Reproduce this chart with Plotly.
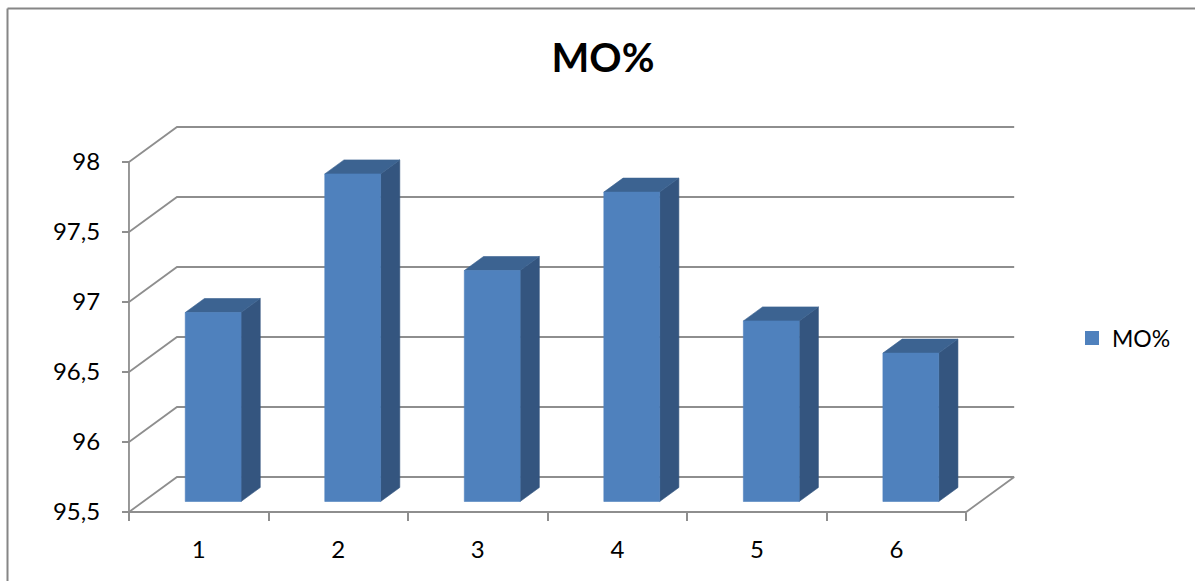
import plotly.graph_objects as go

# Data
categories = ["1", "2", "3", "4", "5", "6"]
mo_values = [96.85, 97.84, 97.15, 97.71, 96.79, 96.56]
y_ticks = [95.5, 96.0, 96.5, 97.0, 97.5, 98.0]
series_name = "MO%"

# Oblique 3D settings (in axis units)
BASE = y_ticks[0]
DEPTH_X = 0.344      # horizontal shift of the back wall, category units
DEPTH_Y = 0.25       # vertical shift of the back wall, value units
BAR_HALF = 0.2       # half width of a column, category units
T_FRONT, T_BACK = 0.3, 0.7   # column front/back position inside the depth

X_RANGE = [0.45, 6.9]
Y_RANGE = [95.45, 98.3]

FRONT = "#4F81BD"
SIDE = "#34557F"
TOP = "#3C6391"
GRID = "#8E8E8E"
FONT = "Lato"

W, H = 1195, 581
M = dict(l=122, r=173, t=120, b=62)

n = len(categories)
x_left, x_right = 0.5, n + 0.5

fig = go.Figure()

# Walls: back-wall gridlines plus left-wall diagonals
gx, gy = [], []
for g in y_ticks:
    gx += [x_left, x_left + DEPTH_X, x_right + DEPTH_X, None]
    gy += [g, g + DEPTH_Y, g + DEPTH_Y, None]
# floor front edge and right edge
gx += [x_left, x_right, x_right + DEPTH_X, None]
gy += [BASE, BASE, BASE + DEPTH_Y, None]
# front vertical axis
gx += [x_left, x_left, None]
gy += [BASE, y_ticks[-1], None]
fig.add_trace(go.Scatter(x=gx, y=gy, mode="lines",
                         line=dict(color=GRID, width=1.8),
                         hoverinfo="skip", showlegend=False))

# Columns: front, side and top faces
fx, fy, sx, sy, tx, ty = [], [], [], [], [], []
for i, v in enumerate(mo_values, start=1):
    xl = i - BAR_HALF + T_FRONT * DEPTH_X
    xr = i + BAR_HALF + T_FRONT * DEPTH_X
    b0 = BASE + T_FRONT * DEPTH_Y
    v0 = v + T_FRONT * DEPTH_Y
    ddx = (T_BACK - T_FRONT) * DEPTH_X
    ddy = (T_BACK - T_FRONT) * DEPTH_Y
    fx += [xl, xr, xr, xl, xl, None]
    fy += [b0, b0, v0, v0, b0, None]
    sx += [xr, xr + ddx, xr + ddx, xr, xr, None]
    sy += [b0, b0 + ddy, v0 + ddy, v0, b0, None]
    tx += [xl, xr, xr + ddx, xl + ddx, xl, None]
    ty += [v0, v0, v0 + ddy, v0 + ddy, v0, None]

for xs, ys, col in [(sx, sy, SIDE), (tx, ty, TOP), (fx, fy, FRONT)]:
    fig.add_trace(go.Scatter(x=xs, y=ys, mode="lines", fill="toself",
                             fillcolor=col, line=dict(color=col, width=0.6),
                             hoverinfo="skip", showlegend=False))

# Legend entry
fig.add_trace(go.Scatter(x=[None], y=[None], mode="markers", name=series_name,
                         marker=dict(symbol="square", size=14, color=FRONT),
                         showlegend=True))

pw = W - M["l"] - M["r"]
ph = H - M["t"] - M["b"]


def px_x(p):
    return (p - M["l"]) / pw


def px_y(p):
    return (H - M["b"] - p) / ph


fig.update_layout(
    width=W, height=H, margin=M,
    paper_bgcolor="white", plot_bgcolor="white",
    separators=",.",
    font=dict(family=FONT, color="black", size=24),
    title=dict(text="<b>MO%</b>", font=dict(family=FONT, size=40, color="black"),
               x=603 / W, xref="container", xanchor="center",
               y=1 - 58 / H, yref="container", yanchor="middle"),
    xaxis=dict(range=X_RANGE, showgrid=False, zeroline=False, showline=False,
               tickmode="array", tickvals=list(range(1, n + 1)), ticktext=categories,
               ticks="", ticklabelstandoff=21,
               minor=dict(tickmode="array",
                          tickvals=[k + 0.5 for k in range(0, n + 1)],
                          ticks="outside", ticklen=8, tickwidth=1.8, tickcolor=GRID),
               anchor="free",
               position=(BASE - Y_RANGE[0]) / (Y_RANGE[1] - Y_RANGE[0]),
               tickfont=dict(size=24)),
    yaxis=dict(range=Y_RANGE, showgrid=False, zeroline=False, showline=False,
               tickmode="array", tickvals=y_ticks,
               ticks="outside", ticklen=7, tickwidth=1.8, tickcolor=GRID,
               ticklabelstandoff=17,
               anchor="free",
               position=(x_left - X_RANGE[0]) / (X_RANGE[1] - X_RANGE[0]),
               tickfont=dict(size=24)),
    legend=dict(x=px_x(1072), y=px_y(338), xanchor="left", yanchor="middle",
                font=dict(size=23), itemwidth=30, bgcolor="rgba(0,0,0,0)"),
    shapes=[
        dict(type="line", xref="paper", yref="paper",
             x0=px_x(7.5), x1=px_x(W + 5), y0=px_y(8.5), y1=px_y(8.5),
             line=dict(color="#868686", width=2)),
        dict(type="line", xref="paper", yref="paper",
             x0=px_x(7.5), x1=px_x(7.5), y0=px_y(8.5), y1=px_y(H + 5),
             line=dict(color="#868686", width=2)),
    ],
)

fig.write_html("out.html")
